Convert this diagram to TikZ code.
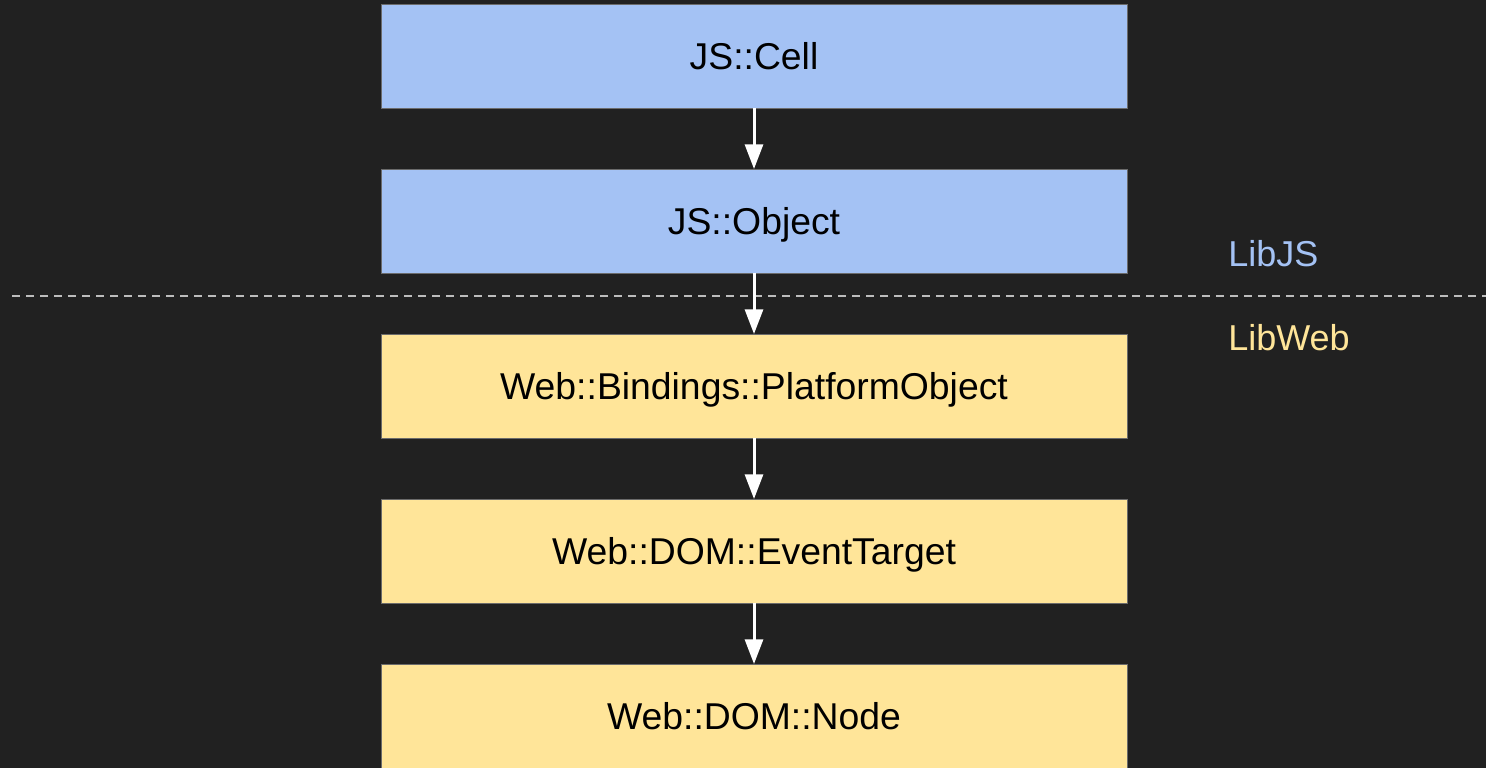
\documentclass[tikz,border=0pt]{standalone}
\usepackage{fontspec}
\setmainfont{Liberation Sans}
\usetikzlibrary{positioning,arrows.meta}
\definecolor{bgdark}{HTML}{212121}
\definecolor{jsblue}{HTML}{A4C2F4}
\definecolor{webyellow}{HTML}{FFE599}
\definecolor{boxedge}{HTML}{6B6B6B}
\definecolor{sepgray}{HTML}{BDBDBD}
\tikzset{
  classbox/.style={draw=boxedge,line width=0.75pt,minimum width=559.5pt,minimum height=78pt,
    outer sep=0pt,inner sep=0pt,text height=20pt,text depth=0pt,
    font=\fontsize{28}{33}\selectfont,text=black},
  jsbox/.style={classbox,fill=jsblue},
  webbox/.style={classbox,fill=webyellow},
  inherits/.style={white,line width=2.25pt,-{Triangle[width=13.5pt,length=18.5pt]}},
  libname/.style={anchor=base west,inner sep=0pt,font=\fontsize{27}{32}\selectfont}
}
\begin{document}
\begin{tikzpicture}[x=0.75pt,y=-0.75pt,node distance=45.75pt]
                \fill[bgdark] (0,0) rectangle (1486,768);
                \useasboundingbox (0,0) rectangle (1486,768);
                \node[jsbox] (cell) at (754,56) {JS::Cell};
                \node[jsbox,below=of cell] (object) {JS::Object};
                \node[webbox,below=of object] (platform) {Web::Bindings::PlatformObject};
                \node[webbox,below=of platform] (eventtarget) {Web::DOM::EventTarget};
                \node[webbox,below=of eventtarget] (domnode) {Web::DOM::Node};
                \coordinate (sepleft) at (12,296);
                \coordinate (sepright) at (1486,296);
                \draw[sepgray,line width=1.3pt,dash pattern=on 6pt off 4.5pt] (sepleft) -- (sepright);
                \foreach \a/\b in {cell/object,object/platform,platform/eventtarget,eventtarget/domnode}{
                    \draw[inherits] (\a.south) -- (\b.north);
                }
                \node[libname,text=jsblue] (libjs) at (1228,266) {LibJS};
                \node[libname,text=webyellow] (libweb) at (1228,350) {LibWeb};
            \end{tikzpicture}
\end{document}
